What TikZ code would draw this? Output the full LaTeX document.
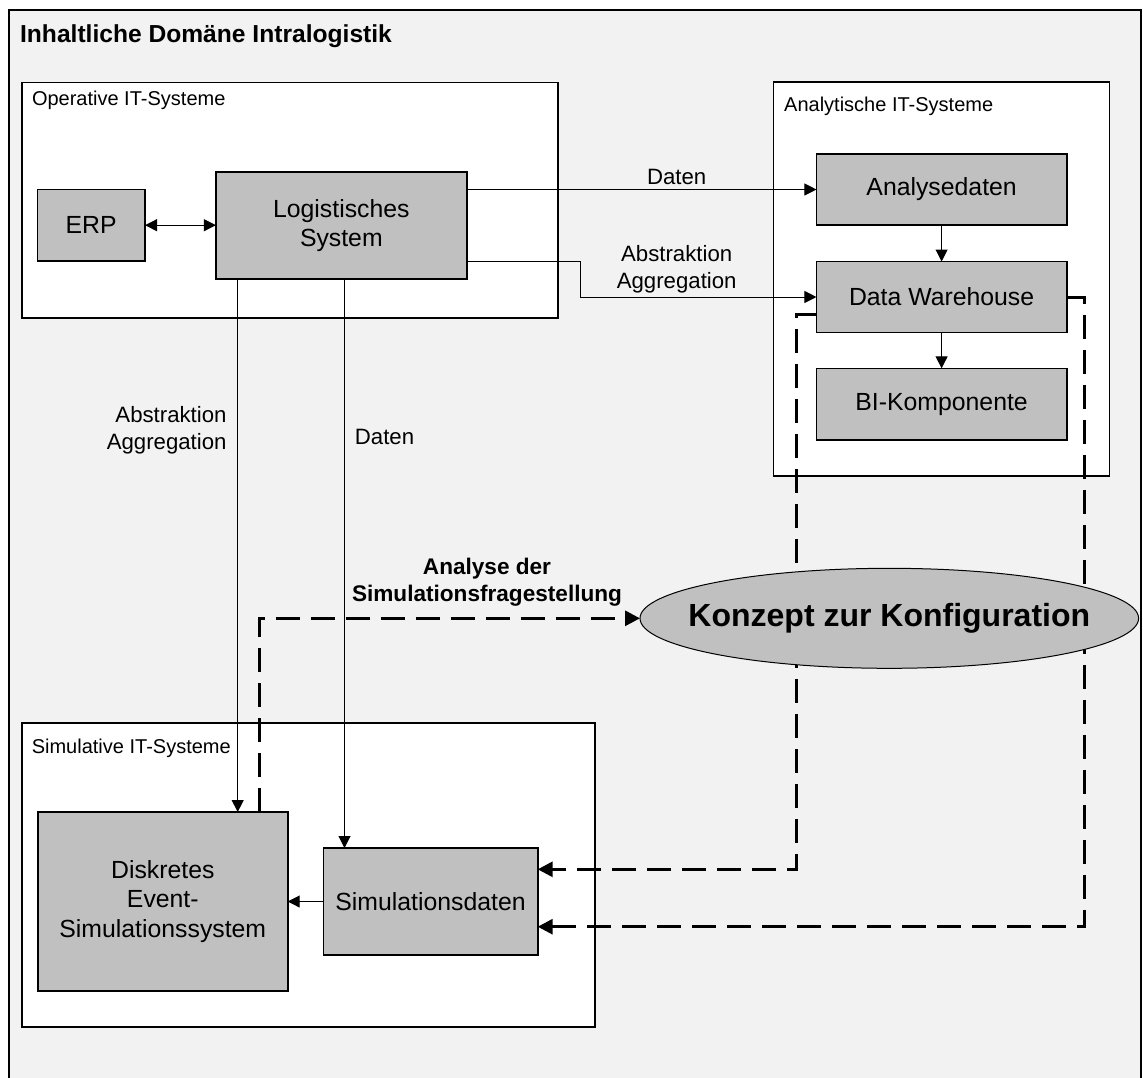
\documentclass[tikz,border=0pt]{standalone}
\usepackage{fontspec}
\setmainfont{Liberation Sans}
\usetikzlibrary{arrows.meta,shapes.geometric,calc}
\definecolor{bgfill}{HTML}{F2F2F2}
\definecolor{boxgray}{HTML}{C0C0C0}
\pgfdeclarelayer{back}
\pgfdeclarelayer{conn}
\pgfsetlayers{back,conn,main}
\begin{document}
\begin{tikzpicture}[x=1pt,y=-1pt,
  comp/.style={draw, fill=boxgray, line width=1.6pt, inner sep=0pt, outer sep=0pt, align=center,
    font=\fontsize{24.8}{29.5}\selectfont},
  container/.style={draw, fill=white, line width=1.6pt, inner sep=0pt, outer sep=0pt},
  grouplabel/.style={anchor=west, inner sep=0pt, font=\fontsize{20}{24}\selectfont},
  thinarrow/.style={line width=1pt, -{Triangle[length=12pt,width=12pt]}},
  dline/.style={line width=3pt, dash pattern=on 24pt off 11pt, -{Triangle[length=15pt,width=15pt]}},
  lbl/.style={font=\fontsize{22.2}{27}\selectfont, align=center, inner sep=0pt},
  blbl/.style={font=\bfseries\fontsize{22.6}{26.7}\selectfont, align=center, inner sep=0pt},
  ]
\useasboundingbox (0,0) rectangle (1143,1077);
\clip (0,0) rectangle (1143,1077);

\begin{pgfonlayer}{back}
  \fill[white] (0,0) rectangle (1143,1077);
  \draw[fill=bgfill, line width=1.6pt] (8.7,10) rectangle (1141,1110);
  \node[anchor=base west, inner sep=0pt, font=\bfseries\fontsize{24.6}{29}\selectfont] (title) at (19.9,42.7) {Inhaltliche Domäne Intralogistik};

  \node[container, minimum width=536pt, minimum height=235.4pt] (op) at (289.7,200) {};
  \node[grouplabel] (oplbl) at (31.8,100.3) {Operative IT-Systeme};

  \node[container, minimum width=336pt, minimum height=394.3pt] (an) at (941.3,278.85) {};
  \node[grouplabel] (anlbl) at (784,106) {Analytische IT-Systeme};

  \node[container, minimum width=573.1pt, minimum height=304.3pt] (si) at (308.45,874.85) {};
  \node[grouplabel] (silbl) at (31.6,748) {Simulative IT-Systeme};
\end{pgfonlayer}

% components
\node[comp, minimum width=107.7pt, minimum height=71.7pt] (erp) at (91.2,225.2) {ERP};
\node[comp, minimum width=250.9pt, minimum height=107.3pt] (log) at (341.35,225.35) {Logistisches\\System};
\node[comp, minimum width=250.3pt, minimum height=71pt] (ana) at (941.6,189.5) {Analysedaten};
\node[comp, minimum width=250.3pt, minimum height=71pt] (dw) at (941.6,297) {Data Warehouse};
\node[comp, minimum width=250.3pt, minimum height=71.7pt] (bi) at (941.6,404.2) {BI-Komponente};
\node[comp, minimum width=249.8pt, minimum height=179pt] (dis) at (162.8,901.5) {Diskretes\\Event-\\Simulationssystem};
\node[comp, minimum width=214.4pt, minimum height=107pt] (sim) at (430.5,901.5) {Simulationsdaten};
\node[ellipse, draw, fill=boxgray, line width=1pt, inner sep=0pt, outer sep=0pt,
      minimum width=498.6pt, minimum height=100pt] (kon) at (889.3,618.3) {};
\node[inner sep=0pt, font=\bfseries\fontsize{32}{38}\selectfont] (kontext) at (kon.center) {Konzept zur Konfiguration};

% labels
\node[lbl] (lDaten1) at (676.7,176.7) {Daten};
\node[lbl] (lAbs1) at (676.7,269.2) {Abstraktion\\Aggregation};
\node[lbl, anchor=east, align=right] (lAbs2) at (226.7,430) {Abstraktion\\Aggregation};
\node[lbl] (lDaten2) at (384.5,437) {Daten};
\node[blbl] (lAna) at (487,582.5) {Analyse der\\Simulationsfragestellung};

\begin{pgfonlayer}{conn}
  \draw[line width=1pt, {Triangle[length=12pt,width=12pt]}-{Triangle[length=12pt,width=12pt]}] (erp.east) -- (log.west |- erp.east);
  \draw[thinarrow] (log.east |- ana.west) -- (ana.west);
  \draw[thinarrow] ([yshift=-35.65pt]log.east) -- ++(113.9,0) |- (dw.west);
  \draw[thinarrow] (237.7,0 |- log.south) -- (237.7,0 |- dis.north);
  \draw[thinarrow] (344.5,0 |- log.south) -- (344.5,0 |- sim.north);
  \draw[thinarrow] (sim.west) -- (dis.east);
  \draw[thinarrow] (ana.south) -- (dw.north);
  \draw[thinarrow] (dw.south) -- (bi.north);

  \draw[dline] (259.3,0 |- dis.north) |- (kon.west);
  \draw[dline] ([yshift=-17.3pt]dw.west) -- ++(-20.3,0) |- ([yshift=32.2pt]sim.east);
  \draw[dline] (dw.east) -- (1084,0 |- dw.east) |- ([yshift=-25.2pt]sim.east);
\end{pgfonlayer}
\end{tikzpicture}
\end{document}
